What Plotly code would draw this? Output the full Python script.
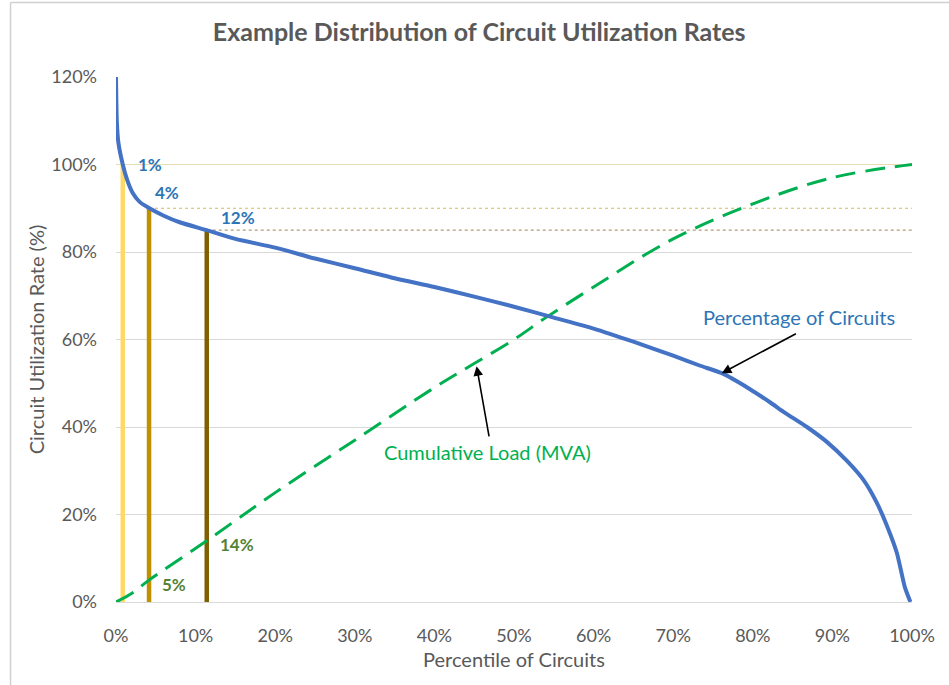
import plotly.graph_objects as go

# Percentage of circuits: utilization rate (%) vs percentile (%)
util_pct = [0, 0.1, 0.3, 0.85, 1.4, 2.1, 3, 4.2, 6, 8, 11.4, 15, 20, 25, 30, 35, 40, 45, 50, 55, 60,
            65, 70, 73.4, 76.1, 79.6, 82.2, 84, 86.8, 89.3, 91.8, 93.9, 95.6, 96.9, 98.1, 99.1, 99.8]
util_val = [120, 110, 105, 100, 96.5, 93.5, 91.4, 90, 88.3, 86.8, 85, 83, 81, 78.5, 76.3, 74, 72, 69.8,
            67.5, 65, 62.5, 59.5, 56.3, 54, 52.3, 48.7, 45.6, 43.3, 40, 36.6, 32.3, 27.9, 22.6, 17.2,
            11.2, 3.4, 0]

# Cumulative load (MVA) share vs percentile
cum_pct = [0, 2, 4.15, 11.4, 20, 30, 40, 45, 50, 54, 60, 70, 80, 90, 100]
cum_val = [0, 2, 5, 14, 25, 37, 49, 54.5, 60, 65, 72, 83, 91, 97, 100]

# Threshold markers
marker_pct = [0.85, 4.15, 11.4]
marker_level = [100, 90, 85]
marker_colors = ["#FFD966", "#BF9000", "#7F6000"]
level_line_colors = ["#E8DDB0", "#D4B860", "#B89A70"]
level_line_dash = ["solid", "dot", "dot"]
pct_labels = ["1%", "4%", "12%"]
load_labels = ["5%", "14%"]
load_label_vals = [5, 14]
right_labels = ["100%", "90%", "85%"]

x_ticks = list(range(0, 101, 10))
y_ticks = list(range(0, 121, 20))

fig = go.Figure()

# horizontal level lines
for i in range(3):
    x0 = 0 if i == 0 else marker_pct[i]
    fig.add_trace(go.Scatter(x=[x0, 100], y=[marker_level[i]] * 2, mode="lines",
                             line=dict(color=level_line_colors[i], width=1.2, dash=level_line_dash[i]),
                             showlegend=False, hoverinfo="skip"))

# vertical marker bars
for i in range(3):
    fig.add_trace(go.Scatter(x=[marker_pct[i]] * 2, y=[0, marker_level[i]], mode="lines",
                             line=dict(color=marker_colors[i], width=4.5),
                             showlegend=False, hoverinfo="skip"))

fig.add_trace(go.Scatter(x=cum_pct, y=cum_val, mode="lines", line_shape="spline",
                         line=dict(color="#00B050", width=3, dash="20px,10px"),
                         showlegend=False, cliponaxis=False))
fig.add_trace(go.Scatter(x=util_pct, y=util_val, mode="lines", line_shape="spline",
                         line=dict(color="#4472C4", width=4, smoothing=0.6),
                         showlegend=False, cliponaxis=False))

ann = []
# percentile labels (blue)
pct_label_pos = [(2.5, 100), (4.6, 93.7), (12.9, 87.8)]
for (x, y), t in zip(pct_label_pos, pct_labels):
    ann.append(dict(x=x, y=y, text="<b>" + t + "</b>", showarrow=False, xanchor="left",
                    font=dict(color="#2E75B6", size=17)))
# load labels (green)
load_label_x = [5.5, 12.8]
for x, y, t in zip(load_label_x, load_label_vals, load_labels):
    ann.append(dict(x=x, y=y - 0.9, text="<b>" + t + "</b>", showarrow=False, xanchor="left",
                    font=dict(color="#548235", size=17)))
# right labels
right_pos = [104.7, 94.4, 79.5]
for y, t in zip(right_pos, right_labels):
    ann.append(dict(x=102.6, y=y, text=t, showarrow=False, xanchor="right",
                    font=dict(color="#C9A227", size=17)))
# series labels
ann.append(dict(x=85.8, y=65.1, text="Percentage of Circuits", showarrow=False,
                font=dict(color="#2E75B6", size=20)))
ann.append(dict(x=46.7, y=34.3, text="Cumulative Load (MVA)", showarrow=False,
                font=dict(color="#00B050", size=20)))
# arrows
ann.append(dict(x=76.1, y=52.3, ax=85.6, ay=61.5, axref="x", ayref="y", text="",
                showarrow=True, arrowhead=2, arrowsize=1.2, arrowwidth=1.6, arrowcolor="#000000"))
ann.append(dict(x=45.3, y=53.9, ax=46.9, ay=37.5, axref="x", ayref="y", text="",
                showarrow=True, arrowhead=2, arrowsize=1.2, arrowwidth=1.6, arrowcolor="#000000"))

fig.update_layout(
    width=949, height=685,
    margin=dict(l=116, r=37, t=77, b=83, autoexpand=False),
    paper_bgcolor="white", plot_bgcolor="white",
    font=dict(family="Lato, Open Sans, sans-serif", color="#595959"),
    title=dict(text="<b>Example Distribution of Circuit Utilization Rates</b>",
               x=0.505, xanchor="center", y=1 - 32 / 685, yanchor="middle",
               font=dict(size=25, color="#595959")),
    xaxis=dict(range=[0, 100], tickvals=x_ticks, ticktext=[f"{v}%" for v in x_ticks],
               showgrid=False, zeroline=False, showline=True, linecolor="#D9D9D9",
               ticks="", ticklabelstandoff=17, automargin=False,
               tickfont=dict(size=18, color="#595959"),
               title=dict(text="Percentile of Circuits", font=dict(size=20, color="#595959"),
                          standoff=8)),
    yaxis=dict(range=[0, 120], tickvals=y_ticks, ticktext=[f"{v}%" for v in y_ticks],
               showgrid=True, gridcolor="#D9D9D9", gridwidth=1, zeroline=False,
               ticks="", ticklabelstandoff=18, automargin=False,
               tickfont=dict(size=18, color="#595959"),
               title=dict(text="Circuit Utilization Rate (%)", font=dict(size=20, color="#595959"),
                          standoff=1)),
    annotations=ann,
    shapes=[dict(type="line", xref="paper", yref="paper", x0=-0.1325, x1=-0.1325, y0=-0.3, y1=1.142,
                 line=dict(color="#D0D0D0", width=1.5), layer="below"),
            dict(type="line", xref="paper", yref="paper", x0=-0.1325, x1=1.1, y0=1.142, y1=1.142,
                 line=dict(color="#D0D0D0", width=1.5), layer="below")],
)

fig.write_html("out.html", config={"displayModeBar": False},
               post_script="document.body.style.margin='0';document.body.style.overflow='hidden';")
